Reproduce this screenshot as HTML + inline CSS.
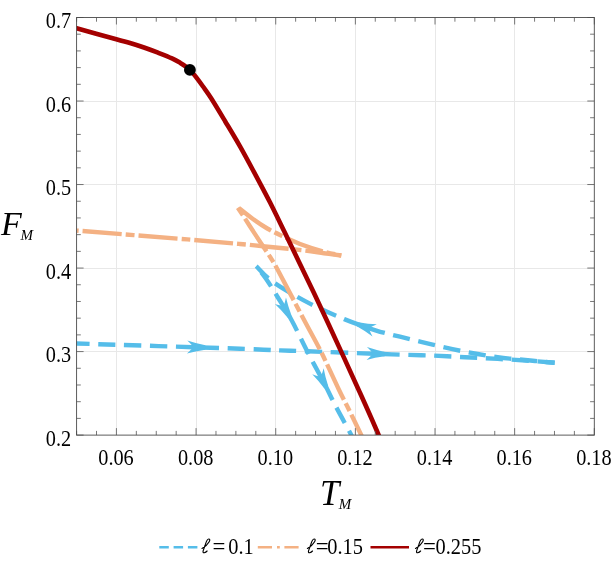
<!DOCTYPE html>
<html><head><meta charset="utf-8"><title>Chart</title>
<style>html,body{margin:0;padding:0;background:#fff;}body{width:614px;height:572px;overflow:hidden;font-family:"Liberation Serif",serif;}svg{display:block;will-change:transform;}</style>
</head><body>
<svg width="614" height="572" viewBox="0 0 614 572">
<rect width="614" height="572" fill="#fff"/>
<path d="M116.5 17.5V435.1M196.5 17.5V435.1M275.5 17.5V435.1M355.5 17.5V435.1M435.5 17.5V435.1M514.5 17.5V435.1M76.6 351.5H594.3M76.6 268.5H594.3M76.6 184.5H594.3M76.6 101.5H594.3" stroke="#e8e8e8" stroke-width="1" shape-rendering="crispEdges" fill="none"/>
<defs><clipPath id="cp"><rect x="76.6" y="17.5" width="517.7" height="417.6"/></clipPath></defs>
<g clip-path="url(#cp)" fill="none" stroke-linejoin="round">
<path d="M40.00 342.40C46.08 342.58 43.17 342.45 76.50 343.50C109.83 344.55 206.08 347.55 240.00 348.70C273.92 349.85 268.70 349.97 280.00 350.40C291.30 350.83 291.88 350.73 307.80 351.30C323.72 351.87 360.13 353.25 375.50 353.80C390.87 354.35 390.48 354.30 400.00 354.60C409.52 354.90 421.77 355.17 432.60 355.60C443.43 356.03 454.15 356.65 465.00 357.20C475.85 357.75 486.82 358.30 497.70 358.90C508.58 359.50 520.80 360.15 530.30 360.80C539.80 361.45 550.63 362.47 554.70 362.80" stroke="#55bde9" stroke-width="4.4" stroke-dasharray="17.2 8.65" stroke-dashoffset="19.18"/>
<path d="M554.70 362.80C550.63 362.42 539.80 361.43 530.30 360.50C520.80 359.57 508.57 358.67 497.70 357.20C486.83 355.73 475.95 353.80 465.10 351.70C454.25 349.60 443.45 347.10 432.60 344.60C421.75 342.10 409.52 339.08 400.00 336.70C390.48 334.32 384.80 333.23 375.50 330.30C366.20 327.37 355.05 323.50 344.20 319.10C333.35 314.70 322.12 309.98 310.40 303.90C298.68 297.82 282.93 288.88 273.90 282.60C264.87 276.32 259.15 268.93 256.20 266.20" stroke="#55bde9" stroke-width="4.4" stroke-dasharray="17.2 8.65" stroke-dashoffset="8.08"/>
<path d="M256.20 266.20C257.83 268.28 262.43 273.57 266.00 278.70C269.57 283.83 273.35 290.12 277.60 297.00C281.85 303.88 286.55 310.92 291.50 320.00C296.45 329.08 301.70 340.67 307.30 351.50C312.90 362.33 320.38 375.92 325.10 385.00C329.82 394.08 331.23 397.67 335.60 406.00C339.97 414.33 348.07 428.92 351.30 435.00C354.53 441.08 354.38 441.25 355.00 442.50" stroke="#55bde9" stroke-width="4.4" stroke-dasharray="17.2 8.65" stroke-dashoffset="17.87"/>
<path transform="translate(203.11 347.49) rotate(1.8)" d="M2.2 2.2 Q-8.00 3.96 -16.0 6.4 Q-11.2 2.13 -10.2 0 Q-11.2 -2.13 -16.0 -6.4 Q-8.00 -3.96 2.2 -2.2Z" fill="#55bde9"/>
<path transform="translate(382.73 354.06) rotate(2.0)" d="M2.2 2.2 Q-8.00 3.96 -16.0 6.4 Q-11.2 2.13 -10.2 0 Q-11.2 -2.13 -16.0 -6.4 Q-8.00 -3.96 2.2 -2.2Z" fill="#55bde9"/>
<path transform="translate(359.63 324.97) rotate(-160.3)" d="M2.2 2.2 Q-8.00 3.96 -16.0 6.4 Q-11.2 2.13 -10.2 0 Q-11.2 -2.13 -16.0 -6.4 Q-8.00 -3.96 2.2 -2.2Z" fill="#55bde9"/>
<path transform="translate(288.49 314.66) rotate(59.8)" d="M2.2 2.2 Q-8.00 3.96 -16.0 6.4 Q-11.2 2.13 -10.2 0 Q-11.2 -2.13 -16.0 -6.4 Q-8.00 -3.96 2.2 -2.2Z" fill="#55bde9"/>
<path transform="translate(325.31 385.41) rotate(62.6)" d="M2.2 2.2 Q-8.00 3.96 -16.0 6.4 Q-11.2 2.13 -10.2 0 Q-11.2 -2.13 -16.0 -6.4 Q-8.00 -3.96 2.2 -2.2Z" fill="#55bde9"/>
<path d="M40.00 227.70C46.13 228.18 52.25 228.65 76.80 230.60C101.35 232.55 160.10 237.17 187.30 239.40C214.50 241.63 227.02 242.82 240.00 244.00C252.98 245.18 254.72 245.45 265.20 246.50C275.68 247.55 293.12 249.18 302.90 250.30C312.68 251.42 317.50 252.33 323.90 253.20C330.30 254.07 338.40 255.12 341.30 255.50" stroke="#f4b183" stroke-width="4.4" stroke-dasharray="39 4 8.8 4" stroke-dashoffset="12.79"/>
<path d="M341.30 255.50C338.40 254.87 330.30 253.45 323.90 251.70C317.50 249.95 309.88 247.63 302.90 245.00C295.92 242.37 287.93 238.65 282.00 235.90C276.07 233.15 272.20 231.37 267.30 228.50C262.40 225.63 257.65 222.37 252.60 218.70C247.55 215.03 239.60 208.53 237.00 206.50" stroke="#f4b183" stroke-width="4.4" stroke-dasharray="39 4 8.8 4" stroke-dashoffset="36.63"/>
<path d="M237.00 206.50C238.03 208.05 240.25 211.28 243.20 215.80C246.15 220.32 251.33 228.43 254.70 233.60C258.07 238.77 260.60 242.55 263.40 246.80C266.20 251.05 269.10 255.23 271.50 259.10C273.90 262.97 272.37 259.85 277.80 270.00C283.23 280.15 296.92 306.42 304.10 320.00C311.28 333.58 315.13 339.97 320.90 351.50C326.67 363.03 333.80 379.03 338.70 389.20C343.60 399.37 346.55 404.87 350.30 412.50C354.05 420.13 358.78 430.00 361.20 435.00C363.62 440.00 364.20 441.25 364.80 442.50" stroke="#f4b183" stroke-width="4.4" stroke-dasharray="39 4 8.8 4" stroke-dashoffset="41.14"/>
<path d="M60.00 23.70C62.77 24.47 67.22 25.70 76.60 28.30C85.98 30.90 107.40 36.85 116.30 39.30C125.20 41.75 125.38 41.63 130.00 43.00C134.62 44.37 139.33 45.88 144.00 47.50C148.67 49.12 153.33 50.88 158.00 52.70C162.67 54.52 168.28 56.70 172.00 58.40C175.72 60.10 177.98 61.53 180.30 62.90C182.62 64.27 184.30 65.42 185.90 66.60C187.50 67.78 188.27 68.33 189.90 70.00C191.53 71.67 193.52 73.85 195.70 76.60C197.88 79.35 200.45 82.93 203.00 86.50C205.55 90.07 207.32 92.22 211.00 98.00C214.68 103.78 220.27 113.14 225.10 121.20C229.93 129.26 235.02 137.61 240.00 146.39C244.98 155.17 250.01 164.58 255.00 173.90C259.99 183.21 265.07 192.67 269.95 202.28C274.83 211.89 279.48 221.64 284.31 231.55C289.13 241.45 293.96 251.50 298.89 261.71C303.81 271.91 308.87 282.26 313.85 292.77C318.84 303.27 323.80 313.93 328.82 324.74C333.84 335.55 338.87 346.51 343.96 357.63C349.06 368.75 354.24 380.02 359.39 391.45C364.54 402.88 369.77 414.47 374.87 426.21C379.98 437.96 387.48 455.97 390.00 461.92" stroke="#a40000" stroke-width="4.6"/>
</g>
<circle cx="189.9" cy="69.9" r="5.9" fill="#000"/>
<path d="M76.60 435.1v-4.2M76.60 17.5v4.2M96.51 435.1v-4.2M96.51 17.5v4.2M116.42 435.1v-7M116.42 17.5v7M136.33 435.1v-4.2M136.33 17.5v4.2M156.25 435.1v-4.2M156.25 17.5v4.2M176.16 435.1v-4.2M176.16 17.5v4.2M196.07 435.1v-7M196.07 17.5v7M215.98 435.1v-4.2M215.98 17.5v4.2M235.89 435.1v-4.2M235.89 17.5v4.2M255.80 435.1v-4.2M255.80 17.5v4.2M275.72 435.1v-7M275.72 17.5v7M295.63 435.1v-4.2M295.63 17.5v4.2M315.54 435.1v-4.2M315.54 17.5v4.2M335.45 435.1v-4.2M335.45 17.5v4.2M355.36 435.1v-7M355.36 17.5v7M375.27 435.1v-4.2M375.27 17.5v4.2M395.18 435.1v-4.2M395.18 17.5v4.2M415.10 435.1v-4.2M415.10 17.5v4.2M435.01 435.1v-7M435.01 17.5v7M454.92 435.1v-4.2M454.92 17.5v4.2M474.83 435.1v-4.2M474.83 17.5v4.2M494.74 435.1v-4.2M494.74 17.5v4.2M514.65 435.1v-7M514.65 17.5v7M534.57 435.1v-4.2M534.57 17.5v4.2M554.48 435.1v-4.2M554.48 17.5v4.2M574.39 435.1v-4.2M574.39 17.5v4.2M594.30 435.1v-7M594.30 17.5v7M76.6 435.10h7M594.3 435.10h-7M76.6 418.40h4.2M594.3 418.40h-4.2M76.6 401.69h4.2M594.3 401.69h-4.2M76.6 384.99h4.2M594.3 384.99h-4.2M76.6 368.28h4.2M594.3 368.28h-4.2M76.6 351.58h7M594.3 351.58h-7M76.6 334.88h4.2M594.3 334.88h-4.2M76.6 318.17h4.2M594.3 318.17h-4.2M76.6 301.47h4.2M594.3 301.47h-4.2M76.6 284.76h4.2M594.3 284.76h-4.2M76.6 268.06h7M594.3 268.06h-7M76.6 251.36h4.2M594.3 251.36h-4.2M76.6 234.65h4.2M594.3 234.65h-4.2M76.6 217.95h4.2M594.3 217.95h-4.2M76.6 201.24h4.2M594.3 201.24h-4.2M76.6 184.54h7M594.3 184.54h-7M76.6 167.84h4.2M594.3 167.84h-4.2M76.6 151.13h4.2M594.3 151.13h-4.2M76.6 134.43h4.2M594.3 134.43h-4.2M76.6 117.72h4.2M594.3 117.72h-4.2M76.6 101.02h7M594.3 101.02h-7M76.6 84.32h4.2M594.3 84.32h-4.2M76.6 67.61h4.2M594.3 67.61h-4.2M76.6 50.91h4.2M594.3 50.91h-4.2M76.6 34.20h4.2M594.3 34.20h-4.2M76.6 17.50h7M594.3 17.50h-7" stroke="#555" stroke-width="0.8" fill="none"/>
<rect x="76.6" y="17.5" width="517.70" height="417.60" fill="none" stroke="#4a4a4a" stroke-width="0.9"/>
<g font-family="'Liberation Serif', serif" font-size="20.3" fill="#000">
<text transform="translate(71.2 445.60) scale(1 1.085)" text-anchor="end">0.2</text>
<text transform="translate(71.2 362.08) scale(1 1.085)" text-anchor="end">0.3</text>
<text transform="translate(71.2 278.56) scale(1 1.085)" text-anchor="end">0.4</text>
<text transform="translate(71.2 195.04) scale(1 1.085)" text-anchor="end">0.5</text>
<text transform="translate(71.2 111.52) scale(1 1.085)" text-anchor="end">0.6</text>
<text transform="translate(71.2 28.00) scale(1 1.085)" text-anchor="end">0.7</text>
<text transform="translate(116.02 464.8) scale(1 1.085)" text-anchor="middle">0.06</text>
<text transform="translate(195.67 464.8) scale(1 1.085)" text-anchor="middle">0.08</text>
<text transform="translate(275.32 464.8) scale(1 1.085)" text-anchor="middle">0.10</text>
<text transform="translate(354.96 464.8) scale(1 1.085)" text-anchor="middle">0.12</text>
<text transform="translate(434.61 464.8) scale(1 1.085)" text-anchor="middle">0.14</text>
<text transform="translate(514.25 464.8) scale(1 1.085)" text-anchor="middle">0.16</text>
<text transform="translate(593.90 464.8) scale(1 1.085)" text-anchor="middle">0.18</text>
</g>
<g font-family="'Liberation Serif', serif" font-style="italic" fill="#000">
<text x="1" y="235" font-size="34">F</text><text x="20.5" y="240.2" font-size="15">M</text>
<text x="320" y="505.2" font-size="34.8">T</text><text x="338.8" y="509.4" font-size="15">M</text>
</g>
<path d="M159.3 547.3H197.6" stroke="#55bde9" stroke-width="2.4" stroke-dasharray="9.5 4.8" fill="none"/>
<path d="M257.8 547.3H299" stroke="#f4b183" stroke-width="2.4" stroke-dasharray="14.2 5 2.8 4.6" fill="none"/>
<path d="M370.5 547.3H409" stroke="#a40000" stroke-width="2.4" fill="none"/>
<path d="M0 9.4C2.5 8.2 5.5 5.8 7.2 2.8C8.2 1 7.8 -0.1 6.7 0C5.2 0.2 4.2 2.8 3.5 5.2L1.2 11.6C0.7 13.2 1.3 14 2.3 13.7C3.3 13.4 4.3 12.8 5.1 12" transform="translate(202.0 539)" stroke="#000" stroke-width="1.15" fill="none" stroke-linecap="round" stroke-linejoin="round"/>
<path d="M0 9.4C2.5 8.2 5.5 5.8 7.2 2.8C8.2 1 7.8 -0.1 6.7 0C5.2 0.2 4.2 2.8 3.5 5.2L1.2 11.6C0.7 13.2 1.3 14 2.3 13.7C3.3 13.4 4.3 12.8 5.1 12" transform="translate(307.4 539)" stroke="#000" stroke-width="1.15" fill="none" stroke-linecap="round" stroke-linejoin="round"/>
<path d="M0 9.4C2.5 8.2 5.5 5.8 7.2 2.8C8.2 1 7.8 -0.1 6.7 0C5.2 0.2 4.2 2.8 3.5 5.2L1.2 11.6C0.7 13.2 1.3 14 2.3 13.7C3.3 13.4 4.3 12.8 5.1 12" transform="translate(415.5 539)" stroke="#000" stroke-width="1.15" fill="none" stroke-linecap="round" stroke-linejoin="round"/>
<g font-family="'Liberation Serif', serif" font-size="20.4" fill="#000">
<text transform="translate(212.5 553.7) scale(1.12 1.085)">=</text><text transform="translate(228.3 553.7) scale(1 1.085)">0.1</text>
<text transform="translate(315.7 553.7) scale(1.12 1.085)">=</text><text transform="translate(327.3 553.7) scale(1 1.085)">0.15</text>
<text transform="translate(423.0 553.7) scale(1.12 1.085)">=</text><text transform="translate(435.5 553.7) scale(1 1.085)">0.255</text>
</g>
</svg>
</body></html>
